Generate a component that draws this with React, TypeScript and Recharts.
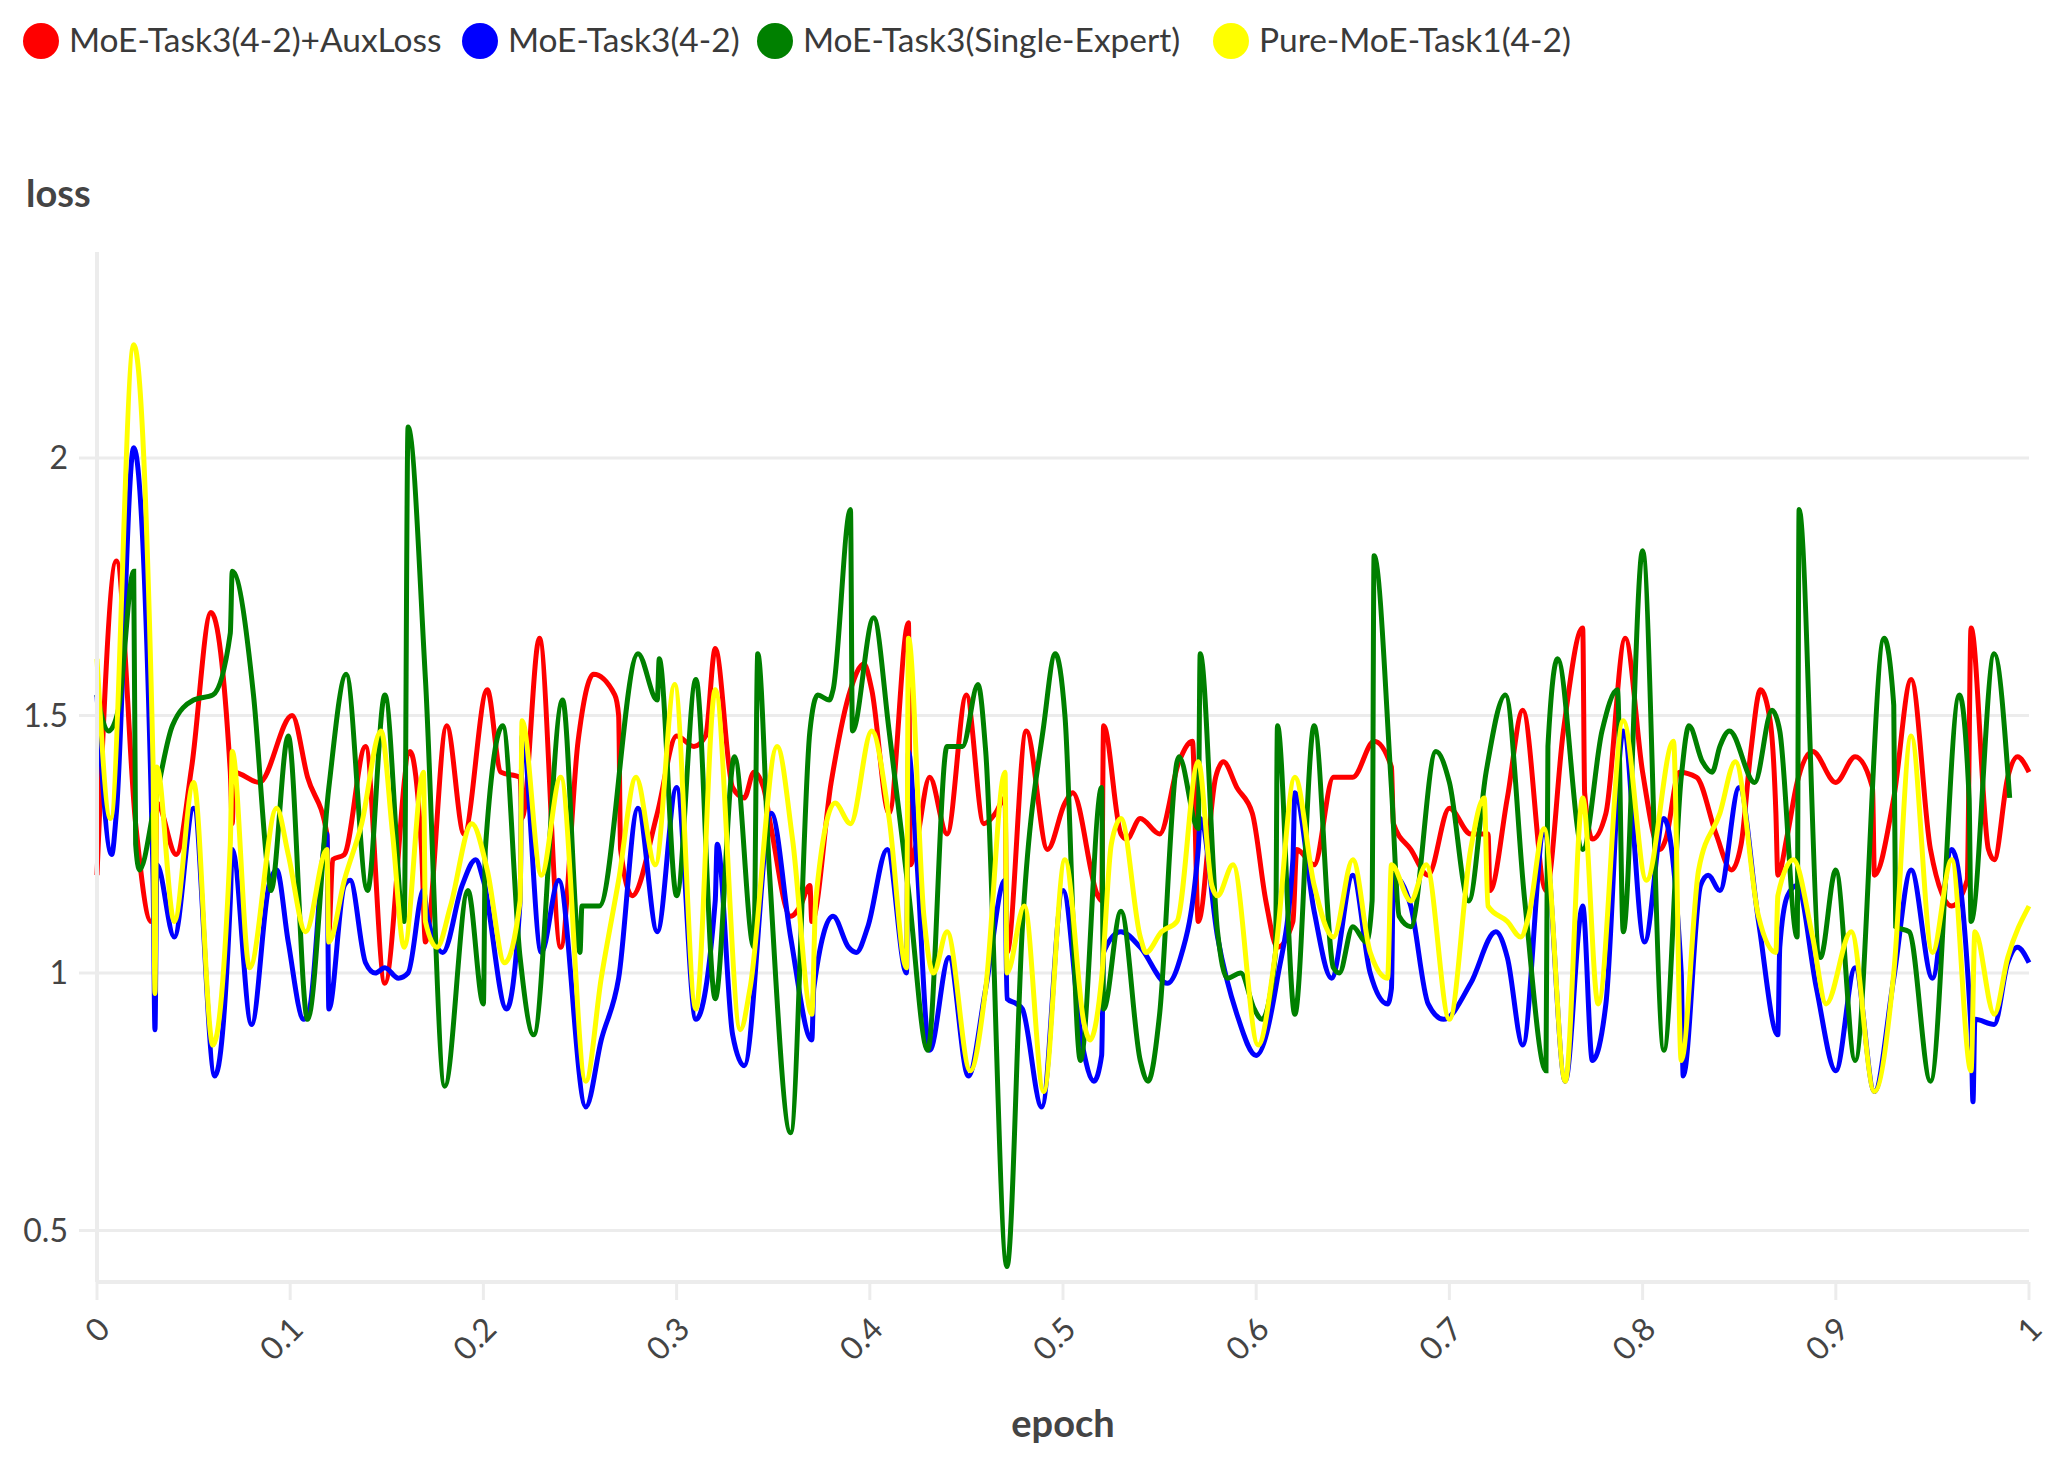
import { CartesianGrid, Line, LineChart, XAxis, YAxis } from "recharts";

// [epoch, loss] pairs
const auxLoss: [number, number][] = [
  [0, 1.19], [0.01, 1.8], [0.02, 1.29], [0.028, 1.1], [0.03, 1.11], [0.031, 1.33],
  [0.041, 1.23], [0.049, 1.4], [0.059, 1.7], [0.069, 1.39], [0.07, 1.29], [0.071, 1.39],
  [0.084, 1.37], [0.101, 1.5], [0.109, 1.38], [0.119, 1.27], [0.12, 1.08], [0.122, 1.22],
  [0.128, 1.23], [0.139, 1.44], [0.149, 0.98], [0.162, 1.43], [0.168, 1.24], [0.17, 1.06],
  [0.181, 1.48], [0.19, 1.27], [0.202, 1.55], [0.209, 1.39], [0.219, 1.38], [0.22, 1.3],
  [0.229, 1.65], [0.24, 1.05], [0.249, 1.45], [0.257, 1.58], [0.268, 1.54], [0.27, 1.5],
  [0.271, 1.24], [0.277, 1.15], [0.29, 1.31], [0.3, 1.46], [0.309, 1.44], [0.315, 1.46],
  [0.32, 1.63], [0.329, 1.36], [0.335, 1.34], [0.34, 1.39], [0.345, 1.36], [0.349, 1.28],
  [0.359, 1.11], [0.364, 1.13], [0.369, 1.17], [0.37, 1.1], [0.38, 1.37], [0.39, 1.55],
  [0.397, 1.6], [0.401, 1.55], [0.41, 1.31], [0.42, 1.68], [0.421, 1.21], [0.424, 1.25],
  [0.431, 1.38], [0.44, 1.27], [0.45, 1.54], [0.459, 1.29], [0.465, 1.31], [0.47, 1.34],
  [0.471, 1.04], [0.481, 1.47], [0.492, 1.24], [0.501, 1.33], [0.505, 1.35], [0.518, 1.15],
  [0.52, 1.14], [0.521, 1.48], [0.53, 1.27], [0.533, 1.26], [0.54, 1.3], [0.55, 1.27],
  [0.56, 1.41], [0.567, 1.45], [0.57, 1.1], [0.579, 1.38], [0.583, 1.41], [0.59, 1.36],
  [0.598, 1.31], [0.605, 1.14], [0.611, 1.05], [0.619, 1.1], [0.621, 1.24], [0.63, 1.21],
  [0.64, 1.38], [0.65, 1.38], [0.661, 1.45], [0.67, 1.4], [0.671, 1.29], [0.68, 1.24],
  [0.689, 1.19], [0.7, 1.32], [0.711, 1.27], [0.72, 1.27], [0.721, 1.16], [0.73, 1.34],
  [0.738, 1.51], [0.75, 1.16], [0.759, 1.47], [0.769, 1.67], [0.77, 1.35], [0.774, 1.26],
  [0.781, 1.31], [0.791, 1.65], [0.8, 1.39], [0.809, 1.24], [0.812, 1.26], [0.819, 1.39],
  [0.828, 1.38], [0.838, 1.27], [0.846, 1.2], [0.851, 1.25], [0.856, 1.43], [0.861, 1.55],
  [0.866, 1.49], [0.869, 1.31], [0.87, 1.19], [0.875, 1.27], [0.88, 1.37], [0.888, 1.43],
  [0.9, 1.37], [0.91, 1.42], [0.919, 1.36], [0.92, 1.19], [0.93, 1.34], [0.939, 1.57],
  [0.949, 1.24], [0.96, 1.13], [0.968, 1.18], [0.97, 1.67], [0.979, 1.24], [0.982, 1.22],
  [0.989, 1.38], [0.994, 1.42], [1, 1.39],
];

const moe42: [number, number][] = [
  [0, 1.54], [0.0076, 1.23], [0.01, 1.31], [0.019, 2.02], [0.029, 1.19], [0.03, 0.89],
  [0.031, 1.21], [0.04, 1.07], [0.05, 1.32], [0.061, 0.8], [0.069, 1.14], [0.07, 1.24],
  [0.08, 0.9], [0.089, 1.17], [0.093, 1.2], [0.099, 1.06], [0.107, 0.91], [0.11, 0.93],
  [0.119, 1.27], [0.12, 0.93], [0.128, 1.17], [0.131, 1.18], [0.139, 1.02], [0.144, 1.0],
  [0.149, 1.01], [0.156, 0.99], [0.161, 1.0], [0.169, 1.16], [0.171, 1.11], [0.179, 1.04],
  [0.189, 1.17], [0.196, 1.22], [0.2, 1.18], [0.212, 0.93], [0.219, 1.14], [0.22, 1.46],
  [0.23, 1.04], [0.239, 1.18], [0.253, 0.74], [0.261, 0.87], [0.27, 0.99], [0.28, 1.32],
  [0.29, 1.08], [0.3, 1.36], [0.31, 0.91], [0.32, 1.14], [0.321, 1.25], [0.329, 0.88],
  [0.335, 0.82], [0.349, 1.31], [0.359, 1.07], [0.37, 0.87], [0.371, 0.97], [0.381, 1.11],
  [0.389, 1.05], [0.393, 1.04], [0.399, 1.09], [0.409, 1.24], [0.419, 1.0], [0.42, 1.43],
  [0.424, 1.24], [0.431, 0.85], [0.441, 1.03], [0.451, 0.8], [0.46, 0.97], [0.47, 1.18],
  [0.471, 0.95], [0.476, 0.94], [0.479, 0.93], [0.489, 0.74], [0.5, 1.16], [0.51, 0.86],
  [0.516, 0.79], [0.52, 0.84], [0.521, 1.04], [0.53, 1.08], [0.54, 1.05], [0.554, 0.98],
  [0.56, 1.02], [0.57, 1.24], [0.571, 1.3], [0.58, 1.07], [0.59, 0.92], [0.6, 0.84],
  [0.611, 0.99], [0.619, 1.22], [0.62, 1.35], [0.63, 1.12], [0.639, 0.99], [0.65, 1.19],
  [0.659, 1.0], [0.668, 0.94], [0.67, 0.97], [0.671, 1.19], [0.68, 1.13], [0.689, 0.94],
  [0.697, 0.91], [0.711, 0.98], [0.724, 1.08], [0.73, 1.03], [0.738, 0.86], [0.749, 1.27],
  [0.76, 0.79], [0.769, 1.13], [0.774, 0.83], [0.781, 0.94], [0.79, 1.47], [0.801, 1.06],
  [0.811, 1.3], [0.82, 1.0], [0.821, 0.8], [0.83, 1.17], [0.834, 1.19], [0.84, 1.16],
  [0.85, 1.36], [0.86, 1.1], [0.87, 0.88], [0.871, 1.05], [0.875, 1.15], [0.88, 1.17],
  [0.89, 0.97], [0.9, 0.81], [0.91, 1.01], [0.92, 0.77], [0.93, 0.99], [0.939, 1.2],
  [0.95, 0.99], [0.96, 1.24], [0.97, 0.89], [0.971, 0.75], [0.972, 0.91], [0.982, 0.9],
  [0.989, 1.02], [0.994, 1.05], [1, 1.02],
];

const singleExpert: [number, number][] = [
  [0, 1.54], [0.006, 1.47], [0.011, 1.51], [0.019, 1.78], [0.02, 1.25], [0.022, 1.2],
  [0.03, 1.33], [0.039, 1.48], [0.05, 1.53], [0.06, 1.54], [0.069, 1.66], [0.07, 1.78],
  [0.081, 1.54], [0.089, 1.18], [0.09, 1.16], [0.099, 1.46], [0.109, 0.91], [0.12, 1.36],
  [0.129, 1.58], [0.14, 1.16], [0.149, 1.54], [0.159, 1.1], [0.161, 2.06], [0.17, 1.57],
  [0.18, 0.78], [0.192, 1.16], [0.2, 0.94], [0.201, 1.24], [0.21, 1.48], [0.219, 1.03],
  [0.226, 0.88], [0.241, 1.53], [0.25, 1.04], [0.251, 1.13], [0.26, 1.13], [0.28, 1.62],
  [0.29, 1.53], [0.291, 1.61], [0.3, 1.15], [0.31, 1.57], [0.32, 0.95], [0.33, 1.42],
  [0.34, 1.05], [0.342, 1.62], [0.348, 1.2], [0.359, 0.69], [0.369, 1.47], [0.373, 1.54],
  [0.379, 1.53], [0.381, 1.55], [0.39, 1.9], [0.391, 1.47], [0.402, 1.69], [0.41, 1.47],
  [0.42, 1.16], [0.43, 0.85], [0.44, 1.44], [0.448, 1.44], [0.456, 1.56], [0.46, 1.43],
  [0.471, 0.43], [0.479, 1.09], [0.49, 1.48], [0.496, 1.62], [0.501, 1.5], [0.509, 0.83],
  [0.52, 1.36], [0.521, 0.93], [0.53, 1.12], [0.54, 0.83], [0.544, 0.79], [0.55, 0.92],
  [0.559, 1.41], [0.56, 1.42], [0.57, 1.28], [0.571, 1.62], [0.58, 1.08], [0.585, 0.99],
  [0.592, 1.0], [0.599, 0.93], [0.603, 0.91], [0.61, 1.04], [0.611, 1.48], [0.62, 0.92],
  [0.63, 1.48], [0.64, 1.01], [0.643, 1.0], [0.65, 1.09], [0.657, 1.06], [0.66, 1.14],
  [0.661, 1.81], [0.67, 1.36], [0.674, 1.11], [0.68, 1.09], [0.693, 1.43], [0.7, 1.37],
  [0.71, 1.14], [0.719, 1.39], [0.729, 1.54], [0.739, 1.14], [0.75, 0.81], [0.751, 1.44],
  [0.756, 1.61], [0.769, 1.24], [0.779, 1.47], [0.787, 1.55], [0.79, 1.08], [0.8, 1.82],
  [0.811, 0.85], [0.82, 1.38], [0.824, 1.48], [0.831, 1.41], [0.836, 1.39], [0.84, 1.44],
  [0.845, 1.47], [0.858, 1.37], [0.867, 1.51], [0.871, 1.47], [0.88, 1.07], [0.881, 1.9],
  [0.892, 1.03], [0.9, 1.2], [0.91, 0.83], [0.925, 1.65], [0.93, 1.52], [0.931, 1.09],
  [0.938, 1.08], [0.949, 0.79], [0.964, 1.54], [0.969, 1.34], [0.97, 1.1], [0.982, 1.62],
  [0.99, 1.34],
];

const pureTask1: [number, number][] = [
  [0, 1.61], [0.007, 1.3], [0.019, 2.22], [0.029, 1.41], [0.03, 0.96], [0.031, 1.4],
  [0.04, 1.1], [0.05, 1.37], [0.06, 0.86], [0.069, 1.25], [0.07, 1.43], [0.079, 1.01],
  [0.093, 1.32], [0.099, 1.23], [0.108, 1.08], [0.119, 1.24], [0.12, 1.06], [0.128, 1.18],
  [0.137, 1.29], [0.147, 1.47], [0.153, 1.27], [0.159, 1.05], [0.169, 1.39], [0.17, 1.1],
  [0.176, 1.05], [0.183, 1.13], [0.194, 1.29], [0.202, 1.2], [0.211, 1.02], [0.219, 1.14],
  [0.22, 1.49], [0.23, 1.19], [0.24, 1.38], [0.253, 0.79], [0.261, 0.99], [0.27, 1.18],
  [0.279, 1.38], [0.289, 1.21], [0.299, 1.56], [0.31, 0.93], [0.32, 1.55], [0.333, 0.89],
  [0.338, 0.97], [0.352, 1.44], [0.36, 1.26], [0.37, 0.92], [0.372, 1.14], [0.382, 1.33],
  [0.39, 1.29], [0.401, 1.47], [0.41, 1.3], [0.419, 1.01], [0.42, 1.65], [0.428, 1.11],
  [0.433, 1.0], [0.44, 1.08], [0.452, 0.81], [0.46, 0.97], [0.47, 1.39], [0.471, 1.0],
  [0.48, 1.13], [0.49, 0.77], [0.501, 1.22], [0.511, 0.9], [0.514, 0.87], [0.52, 0.99],
  [0.525, 1.25], [0.53, 1.3], [0.54, 1.07], [0.543, 1.04], [0.551, 1.08], [0.559, 1.1],
  [0.57, 1.41], [0.577, 1.17], [0.58, 1.15], [0.588, 1.21], [0.601, 0.86], [0.61, 1.04],
  [0.62, 1.38], [0.63, 1.17], [0.64, 1.07], [0.65, 1.22], [0.659, 1.04], [0.668, 0.99],
  [0.67, 1.21], [0.68, 1.14], [0.688, 1.21], [0.7, 0.91], [0.711, 1.24], [0.718, 1.34],
  [0.72, 1.13], [0.73, 1.1], [0.737, 1.07], [0.741, 1.11], [0.749, 1.28], [0.76, 0.79],
  [0.769, 1.34], [0.777, 0.94], [0.79, 1.49], [0.802, 1.18], [0.816, 1.45], [0.82, 0.83],
  [0.829, 1.2], [0.84, 1.31], [0.848, 1.41], [0.86, 1.11], [0.869, 1.04], [0.87, 1.15],
  [0.878, 1.22], [0.888, 1.07], [0.895, 0.94], [0.908, 1.08], [0.92, 0.77], [0.93, 1.0],
  [0.939, 1.46], [0.95, 1.04], [0.96, 1.22], [0.97, 0.81], [0.972, 1.08], [0.982, 0.92],
  [0.989, 1.03], [1, 1.13],
];

const series = [
  { name: "MoE-Task3(4-2)+AuxLoss", color: "#ff0000", points: auxLoss },
  { name: "MoE-Task3(4-2)", color: "#0000ff", points: moe42 },
  { name: "MoE-Task3(Single-Expert)", color: "#008000", points: singleExpert },
  { name: "Pure-MoE-Task1(4-2)", color: "#ffff00", points: pureTask1 },
];

const epochTicks = [0, 0.1, 0.2, 0.3, 0.4, 0.5, 0.6, 0.7, 0.8, 0.9, 1];
const lossTicks = [0.5, 1, 1.5, 2];

const FONT = "Lato, 'Noto Sans', sans-serif";
const TEXT = "#444";
const GRID = "#ececec";

// legend positions (circle left edge)
const legendX = [23, 462, 757, 1213];

const EpochTick = (props: any) => {
  const { x, y, payload } = props;
  const ax = x + 15;
  const ay = y + 31;
  return (
    <text
      x={ax}
      y={ay}
      transform={`rotate(-45 ${ax} ${ay})`}
      textAnchor="end"
      fill={TEXT}
      fontSize={32}
      fontFamily={FONT}
    >
      {payload.value}
    </text>
  );
};

export default function App() {
  return (
    <div style={{ position: "absolute", left: 0, top: 0, width: 2068, height: 1465, background: "#fff" }}>
      <LineChart
        width={2068}
        height={1465}
        margin={{ top: 252, right: 39, left: 0, bottom: 63 }}
      >
        <CartesianGrid vertical={false} stroke={GRID} strokeWidth={3} syncWithTicks />
        <XAxis
          type="number"
          dataKey="epoch"
          domain={[0, 1]}
          ticks={epochTicks}
          height={120}
          interval={0}
          tickSize={18}
          tickMargin={0}
          axisLine={{ stroke: GRID, strokeWidth: 4 }}
          tickLine={{ stroke: GRID, strokeWidth: 3 }}
          tick={<EpochTick />}
        />
        <YAxis
          type="number"
          domain={[0.4, 2.4]}
          ticks={lossTicks}
          width={97}
          tickSize={18}
          tickMargin={11}
          axisLine={{ stroke: GRID, strokeWidth: 4 }}
          tickLine={{ stroke: GRID, strokeWidth: 3 }}
          tick={{ fill: TEXT, fontSize: 32, fontFamily: FONT }}
        />
        {series.map((s) => (
          <Line
            key={s.name}
            name={s.name}
            data={s.points.map(([epoch, loss]) => ({ epoch, loss }))}
            dataKey="loss"
            type="monotone"
            stroke={s.color}
            strokeWidth={5}
            dot={false}
            isAnimationActive={false}
          />
        ))}
      </LineChart>
      <svg
        width={2068}
        height={1465}
        style={{ position: "absolute", left: 0, top: 0, pointerEvents: "none" }}
      >
        {series.map((s, i) => (
          <g key={s.name}>
            <circle cx={legendX[i] + 18} cy={41} r={18} fill={s.color} />
            <text x={legendX[i] + 46} y={52} fontSize={33.5} fontFamily={FONT} fill="#3a3a3a">
              {s.name}
            </text>
          </g>
        ))}
        <text x={26} y={207} fontSize={38} fontWeight={700} fontFamily={FONT} fill={TEXT}>
          loss
        </text>
        <text x={1063} y={1437} textAnchor="middle" fontSize={38} fontWeight={700} fontFamily={FONT} fill={TEXT}>
          epoch
        </text>
      </svg>
    </div>
  );
}
